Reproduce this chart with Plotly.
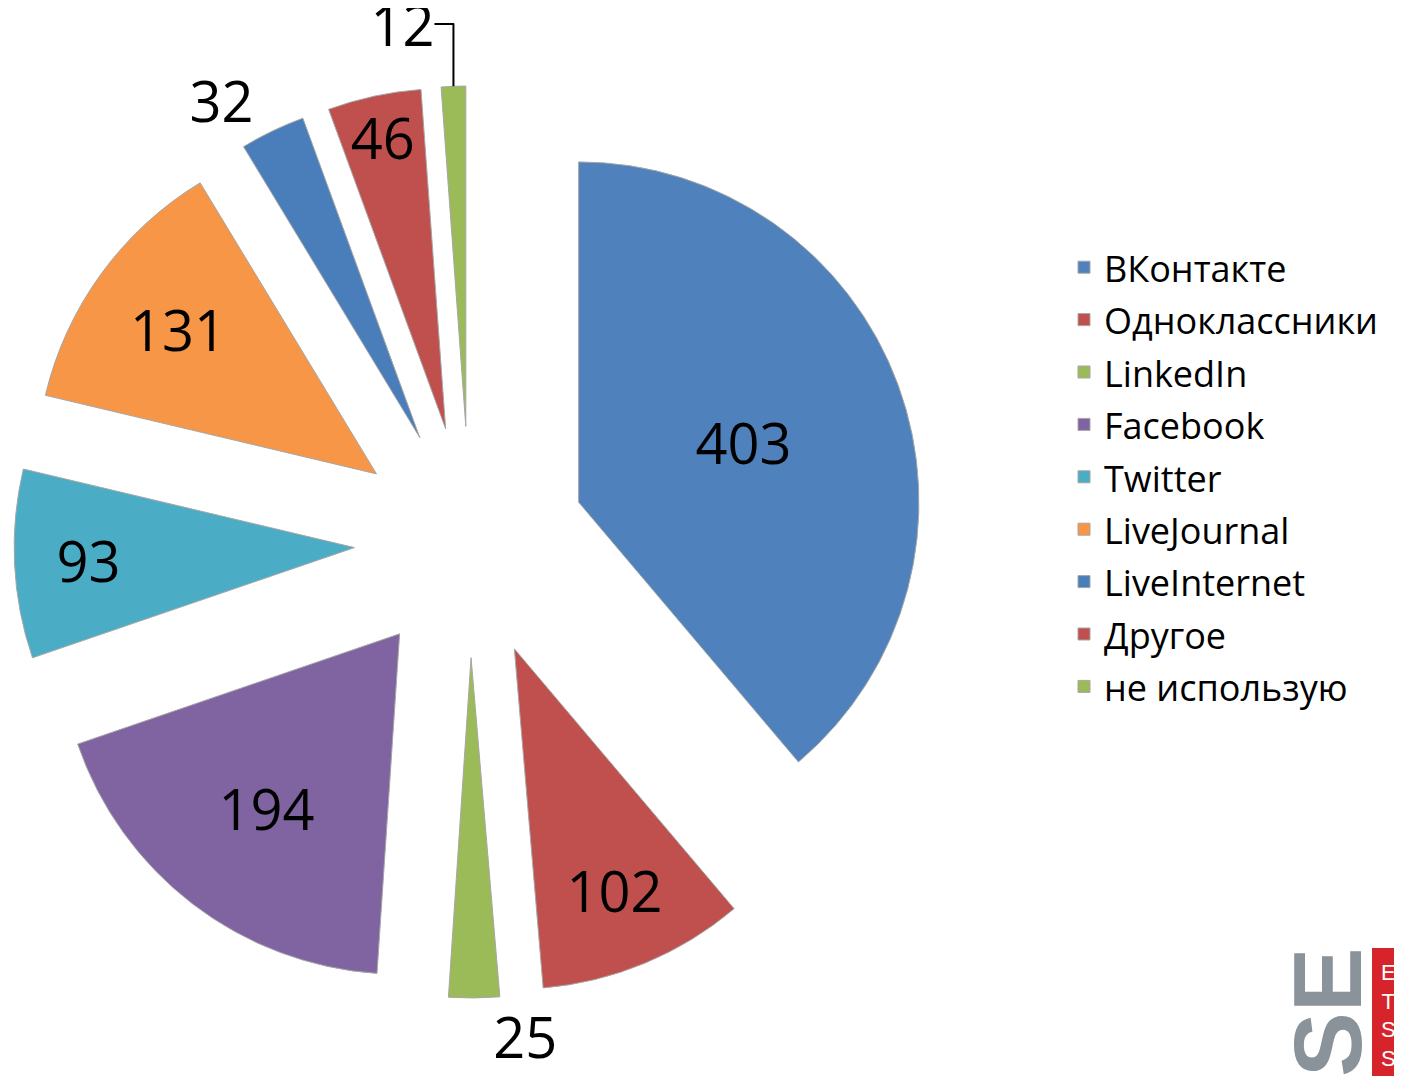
import plotly.graph_objects as go

labels = ["ВКонтакте", "Одноклассники", "LinkedIn", "Facebook", "Twitter",
          "LiveJournal", "LiveInternet", "Другое", "не использую"]
values = [403, 102, 25, 194, 93, 131, 32, 46, 12]
colors = ["#4F81BD", "#C0504D", "#9BBB59", "#8064A2", "#4BACC6",
          "#F79646", "#4A7EBB", "#C0504D", "#9BBB59"]
text_pos = ["inside", "inside", "outside", "inside", "inside",
            "inside", "outside", "inside", "outside"]

OFF = 8  # page body margin offset
W, H = 1402 - OFF, 1076 - OFF
font_family = "Open Sans, Noto Sans, DejaVu Sans, sans-serif"


def px(x):
    return (x - OFF) / W


def py(y):
    return 1 - (y - OFF) / H


cx, cy, half = 470, 542, 456

fig = go.Figure(go.Pie(
    labels=[f"<span style='font-size:36px'>{l}</span>" for l in labels],
    values=values,
    sort=False,
    direction="clockwise",
    rotation=0,
    pull=0.34,
    marker=dict(colors=colors, line=dict(color="#A6A6A6", width=1)),
    textinfo="value",
    textposition=text_pos,
    insidetextorientation="horizontal",
    textfont=dict(size=56, color="black", family=font_family),
    domain=dict(x=[px(cx - half), px(cx + half)],
                y=[py(cy + half), py(cy - half)]),
))

fig.update_layout(
    width=W, height=H,
    margin=dict(l=0, r=0, t=0, b=0, autoexpand=False),
    paper_bgcolor="white",
    plot_bgcolor="white",
    font=dict(family=font_family, color="black"),
    uniformtext=dict(minsize=56, mode="show"),
    legend=dict(x=px(1064), xanchor="left", y=py(477), yanchor="middle",
                font=dict(size=38, family=font_family, color="black"),
                bgcolor="rgba(0,0,0,0)", itemclick=False),
    showlegend=True,
)

# HSE logo (decorative, bottom right, cropped by the page edge as in the original)
fig.add_shape(type="rect", xref="paper", yref="paper",
              x0=px(1372), x1=1.05, y0=-0.05, y1=py(948),
              fillcolor="#D7242B", line=dict(width=0), layer="above")
fig.add_annotation(xref="paper", yref="paper", x=px(1327), y=py(1048),
                   xanchor="center", yanchor="middle",
                   text="<b>HSE</b>", textangle=-90, showarrow=False,
                   font=dict(size=97, color="#8A9399", family="Liberation Sans, Arial, sans-serif"))
fig.add_annotation(xref="paper", yref="paper", x=px(1388), y=py(958),
                   xanchor="center", yanchor="top",
                   text="E<br>T<br>S<br>S<br>S", showarrow=False,
                   font=dict(size=22, color="white",
                             family="Liberation Sans Narrow, Liberation Sans, Arial, sans-serif"))

fig.write_html("out.html")
